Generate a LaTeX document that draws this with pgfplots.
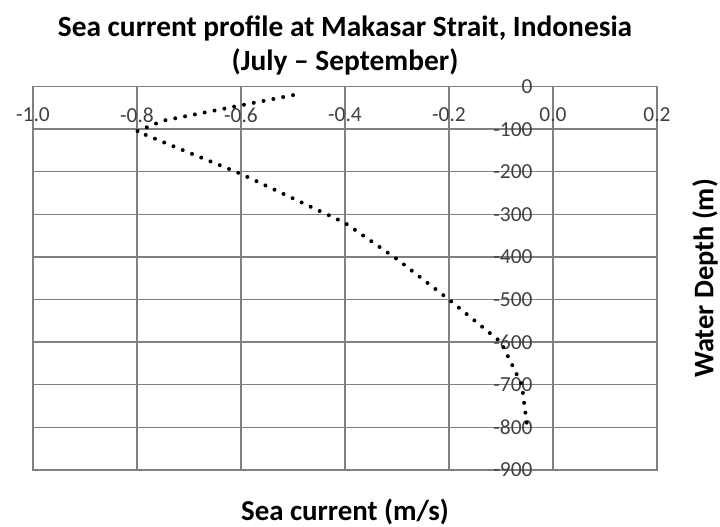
\documentclass[border=0pt]{standalone}
\usepackage{fontspec}
\setmainfont{Carlito}
\usepackage{pgfplots}
\pgfplotsset{compat=1.18}
\definecolor{gridgray}{RGB}{128,128,128}
\pgfplotstableread{
x y
-0.50 -20
-0.75 -80
-0.80 -105
-0.60 -205
-0.40 -320
-0.30 -405
-0.20 -500
-0.10 -600
-0.06 -700
-0.05 -795
}\profile
\begin{document}
\begin{tikzpicture}
\useasboundingbox (0,0) rectangle (720bp,527bp);
\begin{axis}[
  at={(33bp,57bp)}, anchor=south west,
  scale only axis,
  width=624bp, height=383.4bp,
  xmin=-1.0, xmax=0.2, ymin=-900, ymax=0,
  xtick={-1.0,-0.8,-0.6,-0.4,-0.2,0.0,0.2},
  ytick={-900,-800,-700,-600,-500,-400,-300,-200,-100,0},
  grid=major,
  major grid style={gridgray, line width=1.4bp},
  axis line style={gridgray, line width=1.4bp},
  major tick length=0pt,
  /pgf/number format/assume math mode=true,
  xticklabel style={/pgf/number format/fixed, /pgf/number format/fixed zerofill, /pgf/number format/precision=1},
  xticklabel pos=upper,
  xticklabel style={anchor=center, yshift=-28.5bp, font=\fontsize{21.5}{21.5}\selectfont, text=black!75},
  yticklabel style={anchor=east, xshift=503bp, font=\fontsize{21.5}{21.5}\selectfont, text=black!75},
  title={Sea current profile at Makasar Strait, Indonesia\\(July -- September)},
  title style={at={(0.5,1)}, anchor=center, yshift=35bp, align=center,
    font=\fontsize{29.5}{34}\selectfont\bfseries},
  xlabel={Sea current (m/s)},
  xlabel style={at={(0.5,0)}, anchor=center, yshift=-42bp, font=\fontsize{29}{29}\selectfont\bfseries},
  ylabel={Water Depth (m)},
  ylabel style={at={(1,0.5)}, anchor=center, yshift=-48bp, font=\fontsize{28.5}{28.5}\selectfont\bfseries},
]
\addplot[black, line width=4bp, line cap=round, dash pattern=on 0pt off 10bp] table[x=x, y=y] {\profile};
\end{axis}
\end{tikzpicture}
\end{document}
